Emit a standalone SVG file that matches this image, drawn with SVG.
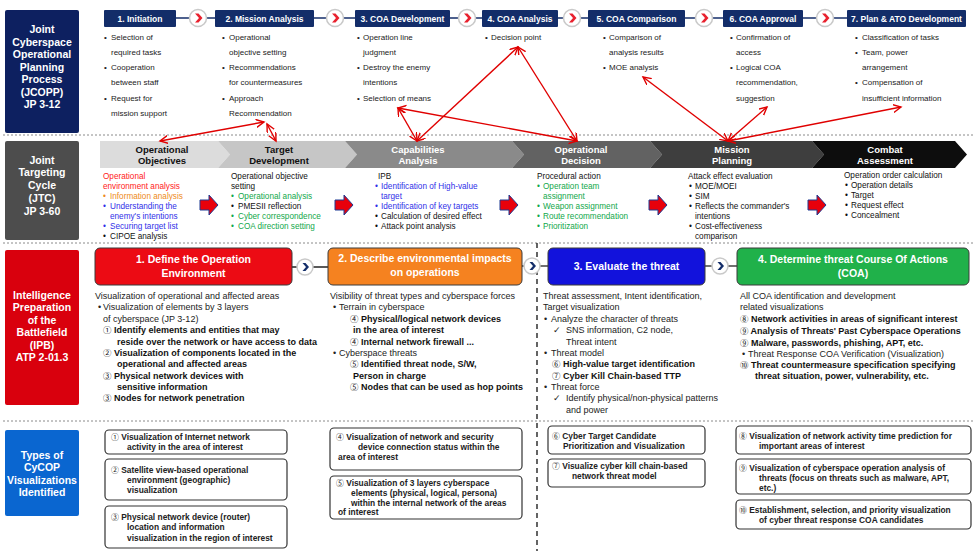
<svg xmlns="http://www.w3.org/2000/svg" width="980" height="551" viewBox="0 0 980 551">
<defs>
<style>
text{font-family:"Liberation Sans","DejaVu Sans",Arial,sans-serif;}
.cd{font-family:"Noto Sans CJK JP","DejaVu Sans",sans-serif;font-weight:normal;font-size:0.94em;}
.lbl{fill:#fff;font-weight:bold;font-size:10.5px;text-anchor:middle;}
.hd{fill:#fff;font-weight:bold;font-size:8.5px;text-anchor:middle;}
.hbox{fill:#132d69;}
.r1{font-size:8px;fill:#222;}
.r2{font-size:8.2px;fill:#111;}
.r3{font-size:9px;fill:#222;}
.r3b{font-size:9px;fill:#111;font-weight:bold;}
.r4{font-size:8.4px;fill:#222;font-weight:bold;}
.chv{font-size:9.5px;font-weight:bold;text-anchor:middle;}
.ih{font-size:10.5px;font-weight:bold;fill:#fff;text-anchor:middle;}
.ibox{stroke:#3a3a3a;stroke-width:1;}
.vbox{fill:#fff;stroke:#333;stroke-width:1.2;}
.red{fill:#ff1a1a;}.org{fill:#ee8a22;}.blu{fill:#3030e8;}.grn{fill:#12a84b;}
.sep{stroke:#8a8a8a;stroke-width:1;stroke-dasharray:2,2;fill:none;}
.circ{fill:#fff;stroke:#c9c9c9;stroke-width:1.5;}
.blk{fill:#e8000b;stroke:#1f3a93;stroke-width:1;}
.rl{stroke:#e00000;stroke-width:1.4;fill:none;marker-start:url(#ah);marker-end:url(#ah);}
</style>
<marker id="ah" markerWidth="10" markerHeight="10" refX="8" refY="4" orient="auto-start-reverse" markerUnits="userSpaceOnUse">
<path d="M0,0 L8,4 L0,8" fill="none" stroke="#e00000" stroke-width="1.4"/>
</marker>
<path id="chevR" d="M-3,-4.5 L0.5,-4.5 L4.5,0 L0.5,4.5 L-3,4.5 L1,0 Z" fill="#e8212e"/>
<path id="chevN" d="M-2.5,-4 L0.5,-4 L4,0 L0.5,4 L-2.5,4 L1,0 Z" fill="#132d69"/>
<path id="barr" d="M0,-5 L9,-5 L9,-10 L18,0 L9,10 L9,5 L0,5 Z"/>
</defs>
<rect width="980" height="551" fill="#fff"/>

<g id="separators">
<line class="sep" x1="3" y1="135" x2="975" y2="135"/>
<line class="sep" x1="3" y1="243" x2="975" y2="243"/>
<line class="sep" x1="3" y1="421" x2="975" y2="421"/>
<line x1="537" y1="243" x2="537" y2="551" stroke="#111" stroke-width="1.3" stroke-dasharray="5,4"/>
</g>

<g id="lbl-jcopp">
<rect x="5" y="10" width="74" height="123" rx="2" fill="#0d2060"/>
<text class="lbl" x="42" y="33">Joint</text>
<text class="lbl" x="42" y="46">Cyberspace</text>
<text class="lbl" x="42" y="58">Operational</text>
<text class="lbl" x="42" y="71">Planning</text>
<text class="lbl" x="42" y="83">Process</text>
<text class="lbl" x="42" y="96">(JCOPP)</text>
<text class="lbl" x="42" y="108">JP 3-12</text>
</g>
<g id="lbl-jtc">
<rect x="5" y="141" width="74" height="99" rx="2" fill="#4d4d4d"/>
<text class="lbl" x="42" y="164">Joint</text>
<text class="lbl" x="42" y="176">Targeting</text>
<text class="lbl" x="42" y="189">Cycle</text>
<text class="lbl" x="42" y="202">(JTC)</text>
<text class="lbl" x="42" y="215">JP 3-60</text>
</g>
<g id="lbl-ipb">
<rect x="5" y="250" width="74" height="155" rx="2" fill="#d9000d"/>
<text class="lbl" x="42" y="299">Intelligence</text>
<text class="lbl" x="42" y="311">Preparation</text>
<text class="lbl" x="42" y="324">of the</text>
<text class="lbl" x="42" y="336">Battlefield</text>
<text class="lbl" x="42" y="349">(IPB)</text>
<text class="lbl" x="42" y="361">ATP 2-01.3</text>
</g>
<g id="lbl-cycop">
<rect x="5" y="430" width="74" height="86" rx="2" fill="#0a66d0"/>
<text class="lbl" x="42" y="459">Types of</text>
<text class="lbl" x="42" y="471">CyCOP</text>
<text class="lbl" x="42" y="484">Visualizations</text>
<text class="lbl" x="42" y="496">Identified</text>
</g>

<g id="jcopp-flow">
<line x1="176" y1="18" x2="966" y2="18" stroke="#132d69" stroke-width="1.5"/>
<circle class="circ" cx="198" cy="18" r="8.5"/><use href="#chevR" x="198" y="18"/>
<circle class="circ" cx="335" cy="18" r="8.5"/><use href="#chevR" x="335" y="18"/>
<circle class="circ" cx="467" cy="18" r="8.5"/><use href="#chevR" x="467" y="18"/>
<circle class="circ" cx="572" cy="18" r="8.5"/><use href="#chevR" x="572" y="18"/>
<circle class="circ" cx="704" cy="18" r="8.5"/><use href="#chevR" x="704" y="18"/>
<circle class="circ" cx="825" cy="18" r="8.5"/><use href="#chevR" x="825" y="18"/>
</g>

<g id="p1">
<rect class="hbox" x="104" y="10" width="72" height="17" rx="1"/>
<text class="hd" x="140" y="21.5">1. Initiation</text>
<text class="r1" x="104" y="40">•</text><text class="r1" x="111" y="40">Selection of</text>
<text class="r1" x="111" y="55">required tasks</text>
<text class="r1" x="104" y="70">•</text><text class="r1" x="111" y="70">Cooperation</text>
<text class="r1" x="111" y="85">between staff</text>
<text class="r1" x="104" y="100.5">•</text><text class="r1" x="111" y="100.5">Request for</text>
<text class="r1" x="111" y="115.5">mission support</text>
</g>
<g id="p2">
<rect class="hbox" x="215" y="10" width="99" height="17" rx="1"/>
<text class="hd" x="264.5" y="21.5">2. Mission Analysis</text>
<text class="r1" x="222" y="40">•</text><text class="r1" x="229" y="40">Operational</text>
<text class="r1" x="229" y="55">objective setting</text>
<text class="r1" x="222" y="70">•</text><text class="r1" x="229" y="70">Recommendations</text>
<text class="r1" x="229" y="85">for countermeasures</text>
<text class="r1" x="222" y="100.5">•</text><text class="r1" x="229" y="100.5">Approach</text>
<text class="r1" x="229" y="115.5">Recommendation</text>
</g>
<g id="p3">
<rect class="hbox" x="355" y="10" width="95" height="17" rx="1"/>
<text class="hd" x="402.5" y="21.5">3. COA Development</text>
<text class="r1" x="357" y="40">•</text><text class="r1" x="363" y="40">Operation line</text>
<text class="r1" x="363" y="55">judgment</text>
<text class="r1" x="357" y="70">•</text><text class="r1" x="363" y="70">Destroy the enemy</text>
<text class="r1" x="363" y="85">intentions</text>
<text class="r1" x="357" y="100.5">•</text><text class="r1" x="363" y="100.5">Selection of means</text>
</g>
<g id="p4">
<rect class="hbox" x="482" y="10" width="76" height="17" rx="1"/>
<text class="hd" x="520" y="21.5">4. COA Analysis</text>
<text class="r1" x="485" y="40">•</text><text class="r1" x="491" y="40">Decision point</text>
</g>
<g id="p5">
<rect class="hbox" x="588" y="10" width="97" height="17" rx="1"/>
<text class="hd" x="636.5" y="21.5">5. COA Comparison</text>
<text class="r1" x="603" y="40">•</text><text class="r1" x="609" y="40">Comparison of</text>
<text class="r1" x="609" y="55">analysis results</text>
<text class="r1" x="603" y="70">•</text><text class="r1" x="609" y="70">MOE analysis</text>
</g>
<g id="p6">
<rect class="hbox" x="723" y="10" width="80" height="17" rx="1"/>
<text class="hd" x="763" y="21.5">6. COA Approval</text>
<text class="r1" x="730" y="40">•</text><text class="r1" x="736" y="40">Confirmation of</text>
<text class="r1" x="736" y="55">access</text>
<text class="r1" x="730" y="70">•</text><text class="r1" x="736" y="70">Logical COA</text>
<text class="r1" x="736" y="85">recommendation,</text>
<text class="r1" x="736" y="100.5">suggestion</text>
</g>
<g id="p7">
<rect class="hbox" x="847" y="10" width="119" height="17" rx="1"/>
<text class="hd" x="906.5" y="21.5">7. Plan &amp; ATO Development</text>
<text class="r1" x="855" y="40">•</text><text class="r1" x="862" y="40">Classification of tasks</text>
<text class="r1" x="855" y="55">•</text><text class="r1" x="862" y="55">Team, power</text>
<text class="r1" x="862" y="70">arrangement</text>
<text class="r1" x="855" y="85">•</text><text class="r1" x="862" y="85">Compensation of</text>
<text class="r1" x="862" y="100.5">insufficient information</text>
</g>

<g id="jtc1">
<polygon points="100,141 218,141 230,154.5 218,168 100,168" fill="#dcdcdc"/>
<text class="chv" x="162" y="152.5" fill="#111">Operational</text>
<text class="chv" x="162" y="163.5" fill="#111">Objectives</text>
<text class="r2 red" x="103" y="179">Operational</text>
<text class="r2 red" x="103" y="189">environment analysis</text>
<text class="r2 org" x="103" y="199">•<tspan x="110">Information analysis</tspan></text>
<text class="r2 blu" x="103" y="209">•<tspan x="110">Understanding the</tspan></text>
<text class="r2 blu" x="110" y="219">enemy's intentions</text>
<text class="r2 blu" x="103" y="229">•<tspan x="110">Securing target list</tspan></text>
<text class="r2" x="103" y="239">•<tspan x="110">CIPOE analysis</tspan></text>
</g>
<g id="jtc2">
<polygon points="218,141 345,141 357,154.5 345,168 218,168 230,154.5" fill="#c6c6c6"/>
<text class="chv" x="279" y="152.5" fill="#111">Target</text>
<text class="chv" x="279" y="163.5" fill="#111">Development</text>
<text class="r2" x="231" y="179">Operational objective</text>
<text class="r2" x="231" y="189">setting</text>
<text class="r2 grn" x="231" y="199">•<tspan x="238">Operational analysis</tspan></text>
<text class="r2" x="231" y="209">•<tspan x="238">PMESII reflection</tspan></text>
<text class="r2 grn" x="231" y="219">•<tspan x="238">Cyber correspondence</tspan></text>
<text class="r2 grn" x="231" y="229">•<tspan x="238">COA direction setting</tspan></text>
</g>
<g id="jtc3">
<polygon points="345,141 512,141 524,154.5 512,168 345,168 357,154.5" fill="#8a8a8a"/>
<text class="chv" x="418" y="152.5" fill="#fff">Capabilities</text>
<text class="chv" x="418" y="163.5" fill="#fff">Analysis</text>
<text class="r2" x="378" y="179">IPB</text>
<text class="r2 blu" x="375" y="189">•<tspan x="381">Identification of High-value</tspan></text>
<text class="r2 blu" x="381" y="199">target</text>
<text class="r2 blu" x="375" y="209">•<tspan x="381">Identification of key targets</tspan></text>
<text class="r2" x="375" y="219">•<tspan x="381">Calculation of desired effect</tspan></text>
<text class="r2" x="375" y="229">•<tspan x="381">Attack point analysis</tspan></text>
</g>
<g id="jtc4">
<polygon points="512,141 650,141 662,154.5 650,168 512,168 524,154.5" fill="#626262"/>
<text class="chv" x="581" y="152.5" fill="#fff">Operational</text>
<text class="chv" x="581" y="163.5" fill="#fff">Decision</text>
<text class="r2" x="537" y="179">Procedural action</text>
<text class="r2 grn" x="537" y="189">•<tspan x="543">Operation team</tspan></text>
<text class="r2 grn" x="543" y="199">assignment</text>
<text class="r2 grn" x="537" y="209">•<tspan x="543">Weapon assignment</tspan></text>
<text class="r2 grn" x="537" y="219">•<tspan x="543">Route recommendation</tspan></text>
<text class="r2 grn" x="537" y="229">•<tspan x="543">Prioritization</tspan></text>
</g>
<g id="jtc5">
<polygon points="650,141 812,141 824,154.5 812,168 650,168 662,154.5" fill="#3e3e3e"/>
<text class="chv" x="732" y="152.5" fill="#fff">Mission</text>
<text class="chv" x="732" y="163.5" fill="#fff">Planning</text>
<text class="r2" x="688" y="179">Attack effect evaluation</text>
<text class="r2" x="689" y="189">•<tspan x="695">MOE/MOEI</tspan></text>
<text class="r2" x="689" y="199">•<tspan x="695">SIM</tspan></text>
<text class="r2" x="689" y="209">•<tspan x="695">Reflects the commander's</tspan></text>
<text class="r2" x="695" y="219">intentions</text>
<text class="r2" x="689" y="229">•<tspan x="695">Cost-effectiveness</tspan></text>
<text class="r2" x="695" y="239">comparison</text>
</g>
<g id="jtc6">
<polygon points="812,141 955,141 967,154.5 955,168 812,168 824,154.5" fill="#0d0d0d"/>
<text class="chv" x="885" y="152.5" fill="#fff">Combat</text>
<text class="chv" x="885" y="163.5" fill="#fff">Assessment</text>
<text class="r2" x="844" y="178">Operation order calculation</text>
<text class="r2" x="845" y="188">•<tspan x="851">Operation details</tspan></text>
<text class="r2" x="845" y="198">•<tspan x="851">Target</tspan></text>
<text class="r2" x="845" y="208">•<tspan x="851">Request effect</tspan></text>
<text class="r2" x="845" y="218">•<tspan x="851">Concealment</tspan></text>
</g>
<g id="jtc-arrows">
<use href="#barr" class="blk" x="200" y="205"/>
<use href="#barr" class="blk" x="335" y="205"/>
<use href="#barr" class="blk" x="500" y="205"/>
<use href="#barr" class="blk" x="649" y="205"/>
<use href="#barr" class="blk" x="808" y="205"/>
</g>

<g id="ipb-flow">
<line x1="292" y1="267" x2="328" y2="267" stroke="#222" stroke-width="1.3"/>
<line x1="522" y1="266" x2="548" y2="266" stroke="#222" stroke-width="1.3"/>
<line x1="705" y1="266" x2="737" y2="266" stroke="#222" stroke-width="1.3"/>
<circle class="circ" cx="305" cy="267" r="8"/><use href="#chevN" x="305" y="267"/>
<circle class="circ" cx="532" cy="266" r="8"/><use href="#chevN" x="532" y="266"/>
<circle class="circ" cx="720" cy="266" r="8"/><use href="#chevN" x="720" y="266"/>
</g>
<g id="ipb1">
<rect class="ibox" x="95" y="248" width="197" height="37" rx="5" fill="#ec0b14"/>
<text class="ih" x="193.5" y="263">1. Define the Operation</text>
<text class="ih" x="193.5" y="277">Environment</text>
<text class="r3" x="95" y="299">Visualization of operational and affected areas</text>
<text class="r3" x="98" y="310">•<tspan x="103">Visualization of elements by 3 layers</tspan></text>
<text class="r3" x="103" y="322">of cyberspace (JP 3-12)</text>
<text class="r3b" x="103" y="333"><tspan class="cd">①</tspan> Identify elements and entities that may</text>
<text class="r3b" x="117" y="345">reside over the network or have access to data</text>
<text class="r3b" x="103" y="356"><tspan class="cd">②</tspan> Visualization of components located in the</text>
<text class="r3b" x="117" y="367">operational and affected areas</text>
<text class="r3b" x="103" y="379"><tspan class="cd">③</tspan> Physical network devices with</text>
<text class="r3b" x="117" y="390">sensitive information</text>
<text class="r3b" x="103" y="401"><tspan class="cd">③</tspan> Nodes for network penetration</text>
</g>
<g id="ipb2">
<rect class="ibox" x="328" y="248" width="194" height="37" rx="5" fill="#f58220"/>
<text class="ih" x="425" y="262">2. Describe environmental impacts</text>
<text class="ih" x="425" y="276">on operations</text>
<text class="r3" x="330" y="299">Visibility of threat types and cyberspace forces</text>
<text class="r3" x="333" y="310">•<tspan x="339">Terrain in cyberspace</tspan></text>
<text class="r3b" x="350" y="322"><tspan class="cd">④</tspan> Physical/logical network devices</text>
<text class="r3b" x="353" y="333">in the area of interest</text>
<text class="r3b" x="350" y="345"><tspan class="cd">④</tspan> Internal network firewall ...</text>
<text class="r3" x="333" y="356">•<tspan x="339">Cyberspace threats</tspan></text>
<text class="r3b" x="350" y="367"><tspan class="cd">⑤</tspan> Identified threat node, S/W,</text>
<text class="r3b" x="353" y="379">Person in charge</text>
<text class="r3b" x="350" y="390"><tspan class="cd">⑤</tspan> Nodes that can be used as hop points</text>
</g>
<g id="ipb3">
<rect class="ibox" x="548" y="248" width="157" height="37" rx="5" fill="#1212dc"/>
<text class="ih" x="626.5" y="270">3. Evaluate the threat</text>
<text class="r3" x="543" y="299">Threat assessment, Intent identification,</text>
<text class="r3" x="543" y="310">Target visualization</text>
<text class="r3" x="544" y="322">•<tspan x="551">Analyze the character of threats</tspan></text>
<text class="r3" x="553" y="333">✓<tspan x="566">SNS information, C2 node,</tspan></text>
<text class="r3" x="566" y="345">Threat intent</text>
<text class="r3" x="544" y="356">•<tspan x="551">Threat model</tspan></text>
<text class="r3b" x="552" y="367"><tspan class="cd">⑥</tspan> High-value target identification</text>
<text class="r3b" x="552" y="379"><tspan class="cd">⑦</tspan> Cyber Kill Chain-based TTP</text>
<text class="r3" x="544" y="390">•<tspan x="551">Threat force</tspan></text>
<text class="r3" x="553" y="401">✓<tspan x="566">Identify physical/non-physical patterns</tspan></text>
<text class="r3" x="566" y="413">and power</text>
</g>
<g id="ipb4">
<rect class="ibox" x="737" y="248" width="232" height="37" rx="5" fill="#20b14a"/>
<text class="ih" x="853" y="263">4. Determine threat Course Of Actions</text>
<text class="ih" x="853" y="277">(COA)</text>
<text class="r3" x="740" y="299">All COA identification and development</text>
<text class="r3" x="740" y="310">related visualizations</text>
<text class="r3b" x="740" y="321.5"><tspan class="cd">⑧</tspan> Network activities in areas of significant interest</text>
<text class="r3b" x="740" y="333.5"><tspan class="cd">⑨</tspan> Analysis of Threats' Past Cyberspace Operations</text>
<text class="r3b" x="740" y="345.5"><tspan class="cd">⑨</tspan> Malware, passwords, phishing, APT, etc.</text>
<text class="r3" x="742" y="356.5">•<tspan x="748">Threat Response COA Verification (Visualization)</tspan></text>
<text class="r3b" x="740" y="367.5"><tspan class="cd">⑩</tspan> Threat countermeasure specification specifying</text>
<text class="r3b" x="755" y="379">threat situation, power, vulnerability, etc.</text>
</g>

<g id="v1">
<rect class="vbox" x="105" y="430" width="182" height="24" rx="4"/>
<text class="r4" x="111" y="440"><tspan class="cd">①</tspan> Visualization of Internet network</text>
<text class="r4" x="127" y="450">activity in the area of interest</text>
</g>
<g id="v2">
<rect class="vbox" x="105" y="459" width="182" height="41" rx="4"/>
<text class="r4" x="111" y="473"><tspan class="cd">②</tspan> Satellite view-based operational</text>
<text class="r4" x="127" y="483">environment (geographic)</text>
<text class="r4" x="127" y="493">visualization</text>
</g>
<g id="v3">
<rect class="vbox" x="105" y="506" width="182" height="42" rx="4"/>
<text class="r4" x="111" y="520"><tspan class="cd">③</tspan> Physical network device (router)</text>
<text class="r4" x="127" y="530">location and information</text>
<text class="r4" x="127" y="541">visualization in the region of interest</text>
</g>
<g id="v4">
<rect class="vbox" x="330" y="428" width="192" height="42" rx="4"/>
<text class="r4" x="336" y="440"><tspan class="cd">④</tspan> Visualization of network and security</text>
<text class="r4" x="358" y="450">device connection status within the</text>
<text class="r4" x="338" y="460">area of interest</text>
</g>
<g id="v5">
<rect class="vbox" x="330" y="476" width="192" height="43" rx="4"/>
<text class="r4" x="336" y="486"><tspan class="cd">⑤</tspan> Visualization of 3 layers cyberspace</text>
<text class="r4" x="351" y="496">elements (physical, logical, persona)</text>
<text class="r4" x="351" y="506">within the internal network of the areas</text>
<text class="r4" x="338" y="515">of interest</text>
</g>
<g id="v6">
<rect class="vbox" x="548" y="426" width="157" height="28" rx="4"/>
<text class="r4" x="552" y="439"><tspan class="cd">⑥</tspan> Cyber Target Candidate</text>
<text class="r4" x="563" y="449">Prioritization and Visualization</text>
</g>
<g id="v7">
<rect class="vbox" x="548" y="459" width="157" height="28" rx="4"/>
<text class="r4" x="552" y="469"><tspan class="cd">⑦</tspan> Visualize cyber kill chain-based</text>
<text class="r4" x="572" y="479">network threat model</text>
</g>
<g id="v8">
<rect class="vbox" x="736" y="426" width="235" height="28" rx="4"/>
<text class="r4" x="739" y="439"><tspan class="cd">⑧</tspan> Visualization of network activity time prediction for</text>
<text class="r4" x="759" y="449">important areas of interest</text>
</g>
<g id="v9">
<rect class="vbox" x="736" y="459" width="235" height="35" rx="4"/>
<text class="r4" x="739" y="471"><tspan class="cd">⑨</tspan> Visualization of cyberspace operation analysis of</text>
<text class="r4" x="759" y="481">threats (focus on threats such as malware, APT,</text>
<text class="r4" x="759" y="491">etc.)</text>
</g>
<g id="v10">
<rect class="vbox" x="736" y="500" width="235" height="29" rx="4"/>
<text class="r4" x="739" y="513"><tspan class="cd">⑩</tspan> Establishment, selection, and priority visualization</text>
<text class="r4" x="759" y="523">of cyber threat response COA candidates</text>
</g>

<g id="connectors">
<line class="rl" x1="160" y1="141" x2="264" y2="122"/>
<line class="rl" x1="276" y1="141" x2="267" y2="124"/>
<line class="rl" x1="417" y1="141" x2="398" y2="108"/>
<line class="rl" x1="417" y1="141" x2="518" y2="47"/>
<line class="rl" x1="577" y1="141" x2="398" y2="108"/>
<line class="rl" x1="577" y1="141" x2="518" y2="47"/>
<line class="rl" x1="728" y1="141" x2="643" y2="77"/>
<line class="rl" x1="728" y1="141" x2="767" y2="107"/>
<line class="rl" x1="728" y1="141" x2="901" y2="107"/>
</g>
</svg>
